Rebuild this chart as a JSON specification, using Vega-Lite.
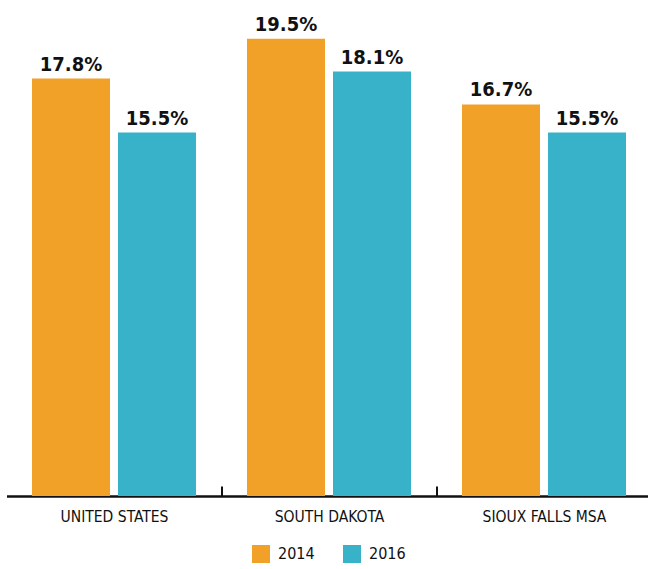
{
  "$schema": "https://vega.github.io/schema/vega-lite/v6.json",
  "width": 645,
  "height": 469,
  "autosize": {"type": "none"},
  "padding": {"left": 6.5, "top": 27, "right": 0, "bottom": 73},
  "background": "white",
  "data": {
    "values": [
      {"region": "UNITED STATES", "year": "2014", "rate": 17.8, "label": "17.8%"},
      {"region": "UNITED STATES", "year": "2016", "rate": 15.5, "label": "15.5%"},
      {"region": "SOUTH DAKOTA", "year": "2014", "rate": 19.5, "label": "19.5%"},
      {"region": "SOUTH DAKOTA", "year": "2016", "rate": 18.1, "label": "18.1%"},
      {"region": "SIOUX FALLS MSA", "year": "2014", "rate": 16.7, "label": "16.7%"},
      {"region": "SIOUX FALLS MSA", "year": "2016", "rate": 15.5, "label": "15.5%"}
    ]
  },
  "config": {
    "view": {"stroke": null},
    "font": "DejaVu Sans Condensed, sans-serif"
  },
  "encoding": {
    "x": {
      "field": "region",
      "type": "nominal",
      "sort": ["UNITED STATES", "SOUTH DAKOTA", "SIOUX FALLS MSA"],
      "scale": {"paddingInner": 0, "paddingOuter": 0},
      "axis": {
        "title": null,
        "labelAngle": 0,
        "labelFontSize": 15.5,
        "labelColor": "#111111",
        "labelPadding": 23,
        "labelBaseline": "top",
        "domainColor": "#111111",
        "domainWidth": 2.5,
        "tickColor": "#111111",
        "tickWidth": 2,
        "tickSize": -10,
        "tickBand": "extent",
        "tickOpacity": {"condition": {"test": "datum.extra || datum.index < 0", "value": 0}, "value": 1},
        "grid": false
      }
    },
    "xOffset": {
      "field": "year",
      "type": "nominal",
      "scale": {"paddingInner": 0.093, "paddingOuter": 0.2965}
    },
    "y": {
      "field": "rate",
      "type": "quantitative",
      "scale": {"domain": [0, 20], "nice": false},
      "axis": null
    }
  },
  "layer": [
    {
      "mark": {"type": "bar"},
      "encoding": {
        "color": {
          "field": "year",
          "type": "nominal",
          "scale": {"domain": ["2014", "2016"], "range": ["#F2A128", "#38B2C8"]},
          "legend": {
            "title": null,
            "orient": "none",
            "direction": "horizontal",
            "legendX": 245.5,
            "legendY": 518,
            "symbolType": "square",
            "symbolSize": 324,
            "symbolStrokeWidth": 0,
            "labelFontSize": 16,
            "labelColor": "#111111",
            "labelOffset": 8,
            "columnPadding": 28
          }
        }
      }
    },
    {
      "mark": {"type": "text", "baseline": "alphabetic", "dy": -8, "fontSize": 20, "fontWeight": "bold", "color": "#111111"},
      "encoding": {
        "text": {"field": "label"}
      }
    }
  ]
}
